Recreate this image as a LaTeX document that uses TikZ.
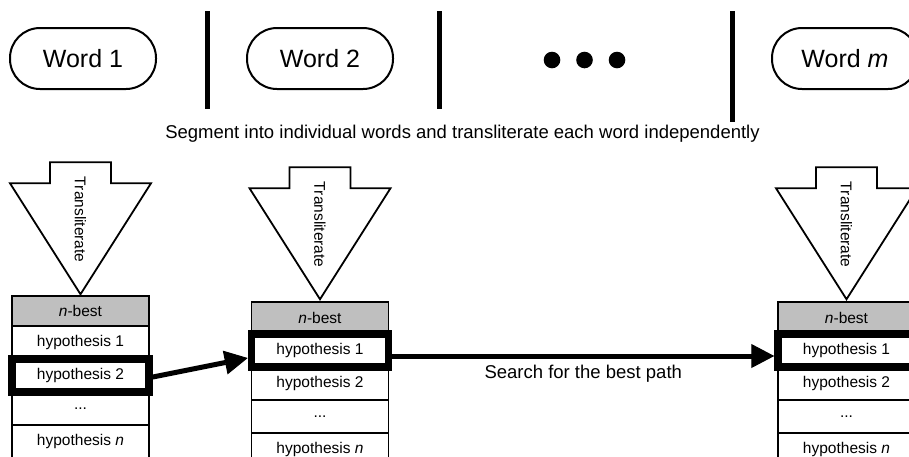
\documentclass[tikz,border=0pt]{standalone}
\usepackage{fontspec}
\setmainfont{Liberation Sans}
\usetikzlibrary{arrows.meta}
\definecolor{hdrgray}{gray}{0.75}
\tikzset{
  translit/.pic={
    \draw[line width=1.8pt,fill=white] (-30.5,-132) -- (30.5,-132) -- (30.5,-111) -- (70.5,-111)
      -- (0,0) -- (-70.5,-111) -- (-30.5,-111) -- cycle;
    \node[rotate=-90,inner sep=0pt,font=\fontsize{15.5}{18}\selectfont] (-lbl) at (0,-74.5) {Transliterate};
  }
}
\begin{document}
\begin{tikzpicture}[x=1pt,y=-1pt,
  word/.style={draw,line width=2pt,rounded corners=30pt,minimum width=146pt,minimum height=61pt,
    inner sep=0pt,font=\fontsize{25}{30}\selectfont},
  sepbar/.style={line width=5pt},
  cell/.style={draw,line width=1.5pt,minimum width=137pt,minimum height=33pt,inner sep=0pt,
    font=\fontsize{15.5}{18}\selectfont},
  hdr/.style={cell,fill=hdrgray},
  hl/.style={line width=7.5pt},
  conn/.style={line width=5pt,-{Triangle[length=23pt,width=24pt,line width=1pt]}},
  caption/.style={font=\fontsize{18.5}{22}\selectfont,inner sep=0pt,anchor=base}
]
\useasboundingbox (0,0) rectangle (909,456);

% words
\node[word] (w1) at (83,58.5) {Word 1};
\node[word] (w2) at (320,58.5) {Word 2};
\node[word] (wm) at (845,58.5) {Word \textit{m}};
\draw[sepbar] (207,11) -- (207,109);
\draw[sepbar] (439,11) -- (439,109);
\draw[sepbar] (732,11) -- (732,122);
\fill (552,60) circle (8.3);
\fill (584.5,60) circle (8.3);
\fill (617,60) circle (8.3);
\node[caption] (seg) at (462.5,138) {Segment into individual words and transliterate each word independently};

% table 1
\node[hdr,minimum height=30pt] (t1h) at (80.5,311) {\textit{n}-best};
\node[cell] (t1r1) at (80.5,342.5) {hypothesis 1};
\node[cell] (t1r3) at (80.5,408.5) {...};
\node[cell] (t1r4) at (80.5,441.5) {hypothesis \textit{n}};
\node[cell,hl] (t1r2) at (80.5,375.5) {hypothesis 2};

% table 2
\node[hdr,minimum height=32pt] (t2h) at (320,318) {\textit{n}-best};
\node[cell] (t2r2) at (320,383.5) {hypothesis 2};
\node[cell] (t2r3) at (320,416.5) {...};
\node[cell] (t2r4) at (320,449.5) {hypothesis \textit{n}};
\node[cell,hl] (t2r1) at (320,350.5) {hypothesis 1};

% table 3
\node[hdr,minimum height=32pt] (t3h) at (846.5,318) {\textit{n}-best};
\node[cell] (t3r2) at (846.5,383.5) {hypothesis 2};
\node[cell] (t3r3) at (846.5,416.5) {...};
\node[cell] (t3r4) at (846.5,449.5) {hypothesis \textit{n}};
\node[cell,hl] (t3r1) at (846.5,350.5) {hypothesis 1};

% transliterate arrows
\pic (a1) at ([yshift=1pt]t1h.north) {translit};
\pic (a2) at ([yshift=2pt]t2h.north) {translit};
\pic (a3) at ([yshift=2pt]t3h.north) {translit};

% connectors
\draw[conn] ([yshift=-1.5pt]t1r2.east) -- ([yshift=-7.5pt]t2r1.west);
\draw[conn] ([yshift=-5.5pt]t2r1.east) -- ([yshift=-5.5pt]t3r1.west)
  node[caption,midway,yshift=-22pt] (search) {Search for the best path};
\end{tikzpicture}
\end{document}
